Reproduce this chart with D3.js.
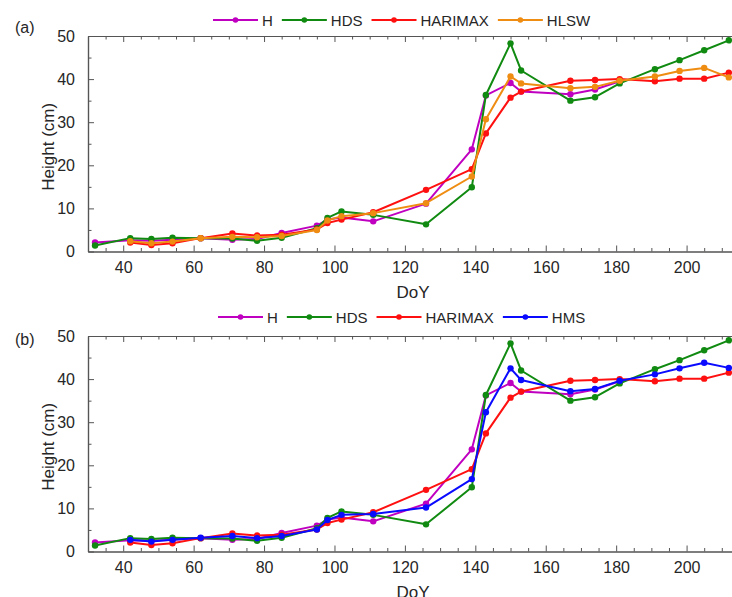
<!DOCTYPE html>
<html>
<head>
<meta charset="utf-8">
<script src="https://cdn.jsdelivr.net/npm/d3@7"></script>
<style>
  body { margin: 0; background: #fff; }
  svg { display: block; font-family: Arial, "Liberation Sans", sans-serif; }
</style>
</head>
<body>
<svg id="chart" width="732" height="597"></svg>
<script>
// Day of year of each observation
const days = [32, 42, 48, 54, 62, 71, 78, 85, 95, 98, 102, 111, 126, 139, 143, 150, 153, 167, 174, 181, 191, 198, 205, 212];

// Canopy height (cm) per method; null where a method has no value
const H       = [2.1, 2.6, 2.5, 2.7, 3.1, 2.7, 2.9, 4.3, 6.0, 7.4, 7.9, 7.0, 11.1, 23.7, 36.2, 39.1, 37.1, 36.5, 37.6, 39.5, null, null, null, null];
const HDS     = [1.4, 3.1, 2.9, 3.2, 3.1, 3.0, 2.5, 3.2, 5.4, 7.8, 9.3, 8.5, 6.3, 14.9, 36.3, 48.3, 42.0, 35.0, 35.8, 39.0, 42.3, 44.4, 46.7, 49.0];
const HARIMAX = [null, 2.1, 1.5, 1.9, 3.1, 4.2, 3.7, 3.9, 5.1, 6.6, 7.4, 9.1, 14.3, 19.1, 27.4, 35.7, 37.1, 39.6, 39.8, 40.0, 39.5, 40.1, 40.1, 41.5];
const HLSW    = [null, 2.4, 1.9, 2.3, 3.1, 3.4, 3.3, 3.6, 5.0, 7.2, 8.2, 8.9, 11.2, 17.4, 30.7, 40.6, 39.0, 37.9, 38.2, 39.6, 40.6, 41.9, 42.6, 40.4];
const HMS     = [null, 2.7, 2.3, 2.7, 3.2, 3.6, 3.1, 3.6, 5.1, 7.3, 8.5, 8.7, 10.2, 16.8, 32.3, 42.5, 39.8, 37.2, 37.7, 39.6, 41.1, 42.5, 43.8, 42.6];

// Axis settings
const xDomain = [30, 215];
const yDomain = [0, 50];
const xMajorTicks = [40, 60, 80, 100, 120, 140, 160, 180, 200];
const yMajorTicks = [0, 10, 20, 30, 40, 50];

const colors = {
  H: "#c000c0",
  HDS: "#108a10",
  HARIMAX: "#ff1010",
  HLSW: "#ef8c12",
  HMS: "#0a0aff"
};

const panels = [
  { tag: "(a)", top: 36, bottom: 251.5, tagY: 27,
    series: [["H", H], ["HDS", HDS], ["HARIMAX", HARIMAX], ["HLSW", HLSW]],
    legendX: 213, legendY: 20 },
  { tag: "(b)", top: 336, bottom: 551.5, tagY: 339,
    series: [["H", H], ["HDS", HDS], ["HARIMAX", HARIMAX], ["HMS", HMS]],
    legendX: 218, legendY: 317 }
];

const svg = d3.select("#chart");
const left = 88, right = 739.4;
const textColor = "#262626";
const axisColor = "#555";

const x = d3.scaleLinear().domain(xDomain).range([left, right]);

panels.forEach(p => {
  const g = svg.append("g");
  const y = d3.scaleLinear().domain(yDomain).range([p.bottom, p.top]);

  const xMinor = d3.range(35, 215, 5).filter(v => v % 20 !== 0);
  const yMinor = d3.range(5, 50, 10);

  // Box axes with inward ticks
  const styleAxis = sel => {
    sel.select(".domain").attr("stroke", axisColor).attr("stroke-width", 1.2);
    sel.selectAll(".tick line").attr("stroke", axisColor).attr("stroke-width", 1);
    sel.selectAll(".tick text").attr("fill", textColor).style("font-size", "16px");
  };

  // bottom
  g.append("g").attr("transform", `translate(0,${p.bottom})`)
    .call(d3.axisBottom(x).tickValues(xMajorTicks).tickSizeInner(-6).tickSizeOuter(0).tickPadding(10))
    .call(styleAxis);
  g.append("g").attr("transform", `translate(0,${p.bottom})`)
    .call(d3.axisBottom(x).tickValues(xMinor).tickSizeInner(-3.5).tickSizeOuter(0).tickFormat(""))
    .call(styleAxis);
  // top
  g.append("g").attr("transform", `translate(0,${p.top})`)
    .call(d3.axisTop(x).tickValues(xMajorTicks).tickSizeInner(-6).tickSizeOuter(0).tickFormat(""))
    .call(styleAxis);
  g.append("g").attr("transform", `translate(0,${p.top})`)
    .call(d3.axisTop(x).tickValues(xMinor).tickSizeInner(-3.5).tickSizeOuter(0).tickFormat(""))
    .call(styleAxis);
  // left
  g.append("g").attr("transform", `translate(${left},0)`)
    .call(d3.axisLeft(y).tickValues(yMajorTicks).tickSizeInner(-6).tickSizeOuter(0).tickPadding(13))
    .call(styleAxis);
  g.append("g").attr("transform", `translate(${left},0)`)
    .call(d3.axisLeft(y).tickValues(yMinor).tickSizeInner(-3.5).tickSizeOuter(0).tickFormat(""))
    .call(styleAxis);
  // right
  g.append("g").attr("transform", `translate(${right},0)`)
    .call(d3.axisRight(y).tickValues(yMajorTicks).tickSizeInner(-6).tickSizeOuter(0).tickFormat(""))
    .call(styleAxis);

  // Axis titles
  g.append("text")
    .attr("x", 413).attr("y", p.bottom + 41)
    .attr("text-anchor", "middle").attr("dominant-baseline", "central")
    .attr("fill", textColor).style("font-size", "17px")
    .text("DoY");
  g.append("text")
    .attr("transform", `translate(48,${(p.top + p.bottom) / 2 + 3}) rotate(-90)`)
    .attr("text-anchor", "middle").attr("dominant-baseline", "central")
    .attr("fill", textColor).style("font-size", "17px")
    .text("Height (cm)");

  // Panel tag
  g.append("text")
    .attr("x", 15).attr("y", p.tagY)
    .attr("dominant-baseline", "central")
    .attr("fill", textColor).style("font-size", "16px")
    .text(p.tag);

  // Series lines and markers
  p.series.forEach(([name, vals]) => {
    const pts = days.map((d, i) => ({ d, v: vals[i] })).filter(o => o.v !== null);
    const line = d3.line().x(o => x(o.d)).y(o => y(o.v));
    g.append("path")
      .datum(pts)
      .attr("d", line)
      .attr("fill", "none")
      .attr("stroke", colors[name])
      .attr("stroke-width", 2)
      .attr("stroke-linejoin", "round");
    g.selectAll(null)
      .data(pts)
      .enter().append("circle")
      .attr("cx", o => x(o.d))
      .attr("cy", o => y(o.v))
      .attr("r", 3.2)
      .attr("fill", colors[name]);
  });

  // Legend
  let lx = p.legendX;
  p.series.forEach(([name]) => {
    const lg = g.append("g");
    lg.append("line")
      .attr("x1", lx).attr("x2", lx + 45)
      .attr("y1", p.legendY).attr("y2", p.legendY)
      .attr("stroke", colors[name]).attr("stroke-width", 2);
    lg.append("circle")
      .attr("cx", lx + 22.5).attr("cy", p.legendY).attr("r", 2.8)
      .attr("fill", colors[name]);
    const t = lg.append("text")
      .attr("x", lx + 49).attr("y", p.legendY)
      .attr("dominant-baseline", "central")
      .attr("fill", textColor).style("font-size", "15px")
      .text(name);
    lx += 49 + t.node().getComputedTextLength() + 9;
  });
});
</script>
</body>
</html>
